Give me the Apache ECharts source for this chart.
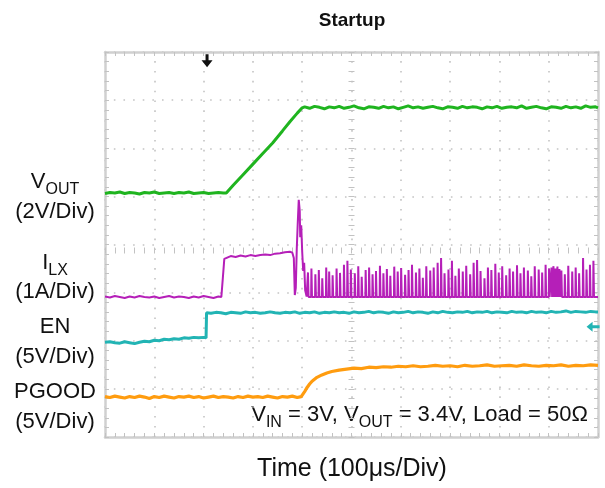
<!DOCTYPE html>
<html><head><meta charset="utf-8">
<script src="https://cdn.jsdelivr.net/npm/echarts@6/dist/echarts.min.js"></script>
<style>html,body{margin:0;padding:0;background:#fff}#c{width:605px;height:488px}</style>
</head><body><div id="c"></div>
<script>
// Time axis in microseconds (100 us/div, 10 divisions); vertical axis in screen divisions (8 divisions)
const timeRange = [0, 1000];
const divRange = [0, 8];

const vout = [[0,5.06],[10,5.08],[20,5.07],[30,5.09],[40,5.06],[50,5.08],[60,5.07],[70,5.05],[80,5.08],[90,5.07],[100,5.09],[110,5.06],[120,5.07],[130,5.08],[140,5.06],[150,5.08],[160,5.07],[170,5.09],[180,5.06],[190,5.07],[200,5.08],[210,5.06],[220,5.07],[230,5.08],[240,5.07],[246,5.07],
[260,5.23],[280,5.45],[300,5.67],[320,5.89],[340,6.11],[360,6.36],[375,6.55],[390,6.73],[400,6.84],
[405,6.86],[415,6.83],[425,6.87],[435,6.85],[445,6.82],[455,6.86],[465,6.84],[475,6.87],[485,6.83],[495,6.85],[505,6.88],[515,6.84],[525,6.82],[535,6.86],[545,6.85],[555,6.83],[565,6.87],[575,6.84],[585,6.86],[595,6.82],[605,6.85],[615,6.88],[625,6.84],[635,6.86],[645,6.83],[655,6.85],[665,6.87],[675,6.84],[685,6.82],[695,6.86],[705,6.85],[715,6.83],[725,6.87],[735,6.84],[745,6.86],[755,6.85],[765,6.82],[775,6.86],[785,6.84],[795,6.87],[805,6.83],[815,6.85],[825,6.86],[835,6.84],[845,6.88],[855,6.83],[865,6.85],[875,6.87],[885,6.84],[895,6.82],[905,6.86],[915,6.85],[925,6.83],[935,6.87],[945,6.84],[955,6.86],[965,6.83],[975,6.88],[985,6.85],[995,6.86],[1000,6.84]];

const ilxStart = [[0,2.92],[10,2.90],[20,2.93],[30,2.91],[40,2.89],[50,2.92],[60,2.90],[70,2.93],[80,2.91],[90,2.90],[100,2.92],[110,2.89],[120,2.91],[130,2.93],[140,2.90],[150,2.92],[160,2.91],[170,2.89],[180,2.92],[190,2.90],[200,2.93],[210,2.91],[220,2.89],[230,2.92],[236,2.91],[239,3.30],[242,3.70],[246,3.74],[255,3.76],[265,3.74],[275,3.77],[285,3.75],[295,3.78],[305,3.76],[315,3.78],[325,3.79],[335,3.78],[345,3.81],[355,3.82],[365,3.84],[375,3.85],[380,3.83],[383,3.72],[385,2.95],[387,3.10],[389,3.92],[391,4.45],[393,4.93],[395,4.70],[396,4.15],[398,4.40],[400,3.85],[402,3.45],[404,3.62],[406,3.05],[409,2.92]];
const ilxBase = 2.91;
const ilxPulseT =   [412,419,427,434,441,449,455,462,470,477,485,492,499,507,514,521,529,536,543,550,558,565,572,579,587,594,601,609,616,623,631,638,645,652,660,667,675,682,689,697,704,711,718,726,733,741,748,755,762,770,777,784,792,799,806,814,821,828,836,843,850,858,865,872,880,887,894,901,906,910,914,918,922,926,933,940,948,955,962,970,977,984,991];
const ilxPulseTop = [3.42,3.50,3.38,3.47,3.30,3.52,3.44,3.36,3.50,3.41,3.58,3.66,3.48,3.40,3.55,3.33,3.47,3.52,3.38,3.45,3.56,3.40,3.49,3.35,3.54,3.44,3.51,3.37,3.47,3.58,3.42,3.50,3.31,3.55,3.46,3.52,3.62,3.72,3.40,3.48,3.66,3.35,3.50,3.44,3.56,3.38,3.62,3.68,3.45,3.30,3.52,3.47,3.60,3.42,3.55,3.36,3.50,3.44,3.57,3.40,3.52,3.46,3.34,3.55,3.48,3.42,3.58,3.50,3.52,3.55,3.50,3.54,3.49,3.46,3.38,3.56,3.44,3.52,3.40,3.72,3.48,3.58,3.66];

const en = [[0,1.97],[10,1.98],[20,1.96],[30,1.95],[40,1.98],[50,1.96],[60,1.94],[70,1.97],[80,1.99],[90,1.98],[100,2.01],[110,2.00],[120,2.03],[130,2.02],[140,2.04],[150,2.03],[160,2.06],[170,2.05],[180,2.07],[190,2.06],[200,2.07],[205,2.06],[206,2.58],[215,2.57],[225,2.59],[235,2.58],[245,2.56],[255,2.59],[265,2.58],[275,2.57],[285,2.60],[295,2.58],[305,2.59],[315,2.57],[325,2.58],[335,2.60],[345,2.58],[355,2.57],[365,2.59],[375,2.58],[385,2.60],[395,2.57],[405,2.59],[415,2.58],[425,2.60],[435,2.57],[445,2.59],[455,2.58],[465,2.60],[475,2.58],[485,2.59],[495,2.57],[505,2.60],[515,2.58],[525,2.59],[535,2.61],[545,2.58],[555,2.60],[565,2.59],[575,2.57],[585,2.60],[595,2.58],[605,2.59],[615,2.61],[625,2.58],[635,2.60],[645,2.59],[655,2.57],[665,2.60],[675,2.58],[685,2.61],[695,2.59],[705,2.58],[715,2.60],[725,2.59],[735,2.61],[745,2.58],[755,2.60],[765,2.59],[775,2.61],[785,2.58],[795,2.60],[805,2.59],[815,2.58],[825,2.61],[835,2.59],[845,2.60],[855,2.58],[865,2.61],[875,2.59],[885,2.60],[895,2.58],[905,2.61],[915,2.59],[925,2.60],[935,2.62],[945,2.59],[955,2.61],[965,2.60],[975,2.59],[985,2.61],[995,2.60],[1000,2.60]];

const pgood = [[0,0.84],[10,0.82],[20,0.85],[30,0.83],[40,0.81],[50,0.84],[60,0.82],[70,0.85],[80,0.83],[90,0.80],[100,0.84],[110,0.82],[120,0.85],[130,0.83],[140,0.81],[150,0.84],[160,0.83],[170,0.85],[180,0.82],[190,0.84],[200,0.81],[210,0.83],[220,0.85],[230,0.82],[240,0.84],[250,0.83],[260,0.81],[270,0.84],[280,0.82],[290,0.85],[300,0.83],[310,0.84],[320,0.82],[330,0.85],[340,0.83],[350,0.81],[360,0.84],[370,0.83],[380,0.85],[390,0.82],[398,0.84],[402,0.88],[406,0.96],[410,1.03],[415,1.10],[420,1.16],[430,1.24],[440,1.29],[450,1.33],[460,1.36],[475,1.39],[490,1.41],[505,1.43],[520,1.42],[535,1.45],[550,1.44],[565,1.46],[580,1.45],[595,1.47],[610,1.46],[625,1.48],[640,1.46],[655,1.47],[670,1.49],[685,1.47],[700,1.48],[715,1.46],[730,1.49],[745,1.47],[760,1.48],[775,1.50],[790,1.47],[805,1.48],[820,1.49],[835,1.47],[850,1.50],[865,1.48],[880,1.47],[895,1.49],[910,1.48],[925,1.50],[940,1.47],[955,1.49],[970,1.48],[985,1.50],[1000,1.49]];

const triggerMarker = [207, 7.82];
const enLevelMarker = [990, 2.29];

// build the switching pulses of I_LX from the read pulse times/heights
const ilx = ilxStart.slice();
for (let i = 0; i < ilxPulseT.length; i++) {
  const t = ilxPulseT[i], h = ilxPulseTop[i];
  ilx.push([t - 0.9, ilxBase], [t - 0.3, h], [t + 0.3, h], [t + 0.9, ilxBase]);
}
ilx.push([1000, ilxBase]);

const FF = '"Liberation Sans", Arial, Helvetica, sans-serif';
const GRID = { left: 105, top: 52, width: 493, height: 385 };
const borderColor = '#d0d0d0', tickColor = '#c2c2c2', gridColor = '#c4c4c4';

function xAx(extra) {
  return Object.assign({
    type: 'value', min: timeRange[0], max: timeRange[1], interval: 100,
    axisLabel: { show: false }, splitLine: { show: false },
    axisLine: { show: true, onZero: false, lineStyle: { color: borderColor, width: 2.5 } },
    axisTick: { show: true, inside: true, length: 4, lineStyle: { color: tickColor, width: 1 } },
    minorTick: { show: true, splitNumber: 5, length: 4, lineStyle: { color: tickColor, width: 1 } }
  }, extra);
}
function yAx(extra) {
  return Object.assign({
    type: 'value', min: divRange[0], max: divRange[1], interval: 1,
    axisLabel: { show: false }, splitLine: { show: false },
    axisLine: { show: true, onZero: false, lineStyle: { color: borderColor, width: 2.5 } },
    axisTick: { show: true, inside: true, length: 4, lineStyle: { color: tickColor, width: 1 } },
    minorTick: { show: true, splitNumber: 5, length: 4, lineStyle: { color: tickColor, width: 1 } }
  }, extra);
}
const centerTick = { show: true, inside: false, length: 6, lineStyle: { color: tickColor, width: 1 } };
const centerMinor = { show: true, splitNumber: 5, length: 6, lineStyle: { color: tickColor, width: 1 } };

const mainStyle = { fontSize: 22, lineHeight: 24, verticalAlign: 'top', fontFamily: FF, fill: '#111' };
const subStyle = { fontSize: 16, lineHeight: 16, padding: [11, 0, 0, 0], verticalAlign: 'top', fontFamily: FF, fill: '#111' };
function richText(x, y, text, align, size) {
  const m = Object.assign({}, mainStyle, size ? { fontSize: size } : {});
  const s = Object.assign({}, subStyle, size ? { fontSize: Math.round(size * 0.74) } : {});
  return { type: 'text', x: x, y: y, silent: true,
    style: { text: text, textAlign: align, verticalAlign: 'middle', rich: { m: m, s: s } } };
}
function plainText(x, y, text, size, weight) {
  return { type: 'text', x: x, y: y, silent: true,
    style: { text: text, textAlign: 'center', verticalAlign: 'middle', fontSize: size, fontFamily: FF, fontWeight: weight || 'normal', fill: '#111' } };
}

const chart = echarts.init(document.getElementById('c'), null, { renderer: 'canvas' });
chart.setOption({
  animation: false,
  backgroundColor: '#fff',
  grid: GRID,
  xAxis: [
    xAx({ position: 'bottom', splitLine: { show: true, lineStyle: { color: gridColor, width: 1.6, type: [1.6, 8.26], dashOffset: 0.8 } } }),
    xAx({ position: 'top' }),
    xAx({ position: 'bottom', offset: -195.5, axisLine: { show: false }, axisTick: centerTick, minorTick: centerMinor })
  ],
  yAxis: [
    yAx({ position: 'left', splitLine: { show: true, lineStyle: { color: gridColor, width: 1.6, type: [1.6, 8.03], dashOffset: 0.8 } } }),
    yAx({ position: 'right' }),
    yAx({ position: 'left', offset: -249.5, axisLine: { show: false }, axisTick: centerTick, minorTick: centerMinor })
  ],
  series: [
    { name: 'VOUT', type: 'line', data: vout, showSymbol: false, silent: true, z: 5,
      lineStyle: { color: '#1fb41f', width: 3 }, itemStyle: { color: '#1fb41f' } },
    { name: 'ILX', type: 'line', data: ilx, showSymbol: false, silent: true, z: 4,
      lineStyle: { color: '#b51fb8', width: 2 }, itemStyle: { color: '#b51fb8' } },
    { name: 'EN', type: 'line', data: en, showSymbol: false, silent: true, z: 5,
      lineStyle: { color: '#22b4b4', width: 3 }, itemStyle: { color: '#22b4b4' },
      markPoint: { silent: true, label: { show: false }, data: [
        { coord: triggerMarker, symbol: 'path://M4,0 L7,0 L7,6 L11,6 L5.5,13 L0,6 L4,6 Z', symbolSize: [11, 13], itemStyle: { color: '#111' } },
        { coord: enLevelMarker, symbol: 'path://M0,5 L6,0 L6,3.5 L13,3.5 L13,6.5 L6,6.5 L6,10 Z', symbolSize: [13, 10], itemStyle: { color: '#22b4b4' } }
      ] } },
    { name: 'PGOOD', type: 'line', data: pgood, showSymbol: false, silent: true, z: 5,
      lineStyle: { color: '#ff9c0f', width: 3.2 }, itemStyle: { color: '#ff9c0f' } }
  ],
  graphic: [
    plainText(352, 21, 'Startup', 19, 'bold'),
    richText(55, 183, '{m|V}{s|OUT}', 'center'),
    plainText(55, 212, '(2V/Div)', 22),
    richText(55, 264, '{m|I}{s|LX}', 'center'),
    plainText(55, 292, '(1A/Div)', 22),
    plainText(55, 327, 'EN', 22),
    plainText(55, 357, '(5V/Div)', 22),
    plainText(55, 392, 'PGOOD', 22),
    plainText(55, 422, '(5V/Div)', 22),
    richText(588, 416, '{m|V}{s|IN}{m| = 3V, V}{s|OUT}{m| = 3.4V, Load = 50Ω}', 'right', 22),
    plainText(352, 469, 'Time (100μs/Div)', 25)
  ]
});
</script>
</body></html>
